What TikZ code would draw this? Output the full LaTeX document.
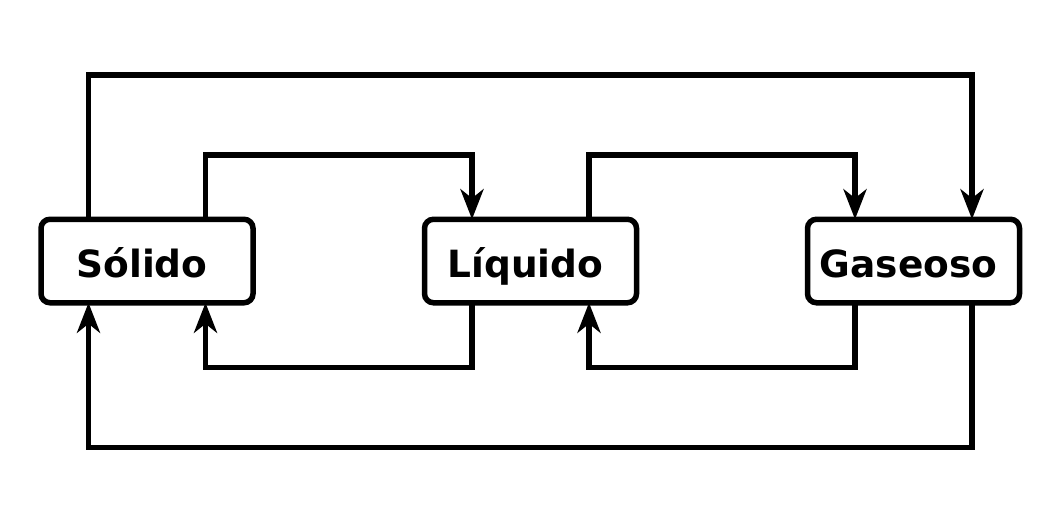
\documentclass[tikz,border=0pt]{standalone}
\usepackage{fontspec}
\setmainfont{DejaVu Sans}
\usetikzlibrary{arrows.meta}
\begin{document}
\begin{tikzpicture}[x=1pt,y=-1pt,
  state/.style={draw, line width=5.5pt, rounded corners=9pt, minimum width=212pt, minimum height=83.5pt,
    inner sep=0pt, outer sep=0pt, font=\fontsize{37.5}{40}\selectfont\bfseries, text height=32pt, text depth=0pt},
  conn/.style={line width=5.5pt},
  arr/.style={conn, -{Stealth[length=30pt, width=23pt, inset=9pt]}}]
\useasboundingbox (0,0) rectangle (1051,509);
\node[state] (S) at (147,261) {\hspace*{-10pt}Sólido};
\node[state] (L) at (530.5,261) {\hspace*{-10pt}Líquido};
\node[state] (G) at (913.5,261) {\hspace*{-10pt}Gaseoso};
\coordinate (top1) at (0,75);
\coordinate (top2) at (0,155);
\coordinate (bot1) at (0,367.5);
\coordinate (bot2) at (0,447.5);
% Solido -> Gaseoso
\draw[arr] ([xshift=-58.5pt]S.north) -- ([xshift=-58.5pt]S.north |- top1) -- ([xshift=58.5pt]G.north |- top1) -- ([xshift=58.5pt]G.north);
% Solido -> Liquido
\draw[arr] ([xshift=58.5pt]S.north) -- ([xshift=58.5pt]S.north |- top2) -- ([xshift=-58.5pt]L.north |- top2) -- ([xshift=-58.5pt]L.north);
% Liquido -> Gaseoso
\draw[arr] ([xshift=58.5pt]L.north) -- ([xshift=58.5pt]L.north |- top2) -- ([xshift=-58.5pt]G.north |- top2) -- ([xshift=-58.5pt]G.north);
% Liquido -> Solido
\draw[arr] ([xshift=-58.5pt]L.south) -- ([xshift=-58.5pt]L.south |- bot1) -- ([xshift=58.5pt]S.south |- bot1) -- ([xshift=58.5pt]S.south);
% Gaseoso -> Liquido
\draw[arr] ([xshift=-58.5pt]G.south) -- ([xshift=-58.5pt]G.south |- bot1) -- ([xshift=58.5pt]L.south |- bot1) -- ([xshift=58.5pt]L.south);
% Gaseoso -> Solido
\draw[arr] ([xshift=58.5pt]G.south) -- ([xshift=58.5pt]G.south |- bot2) -- ([xshift=-58.5pt]S.south |- bot2) -- ([xshift=-58.5pt]S.south);
\end{tikzpicture}
\end{document}
